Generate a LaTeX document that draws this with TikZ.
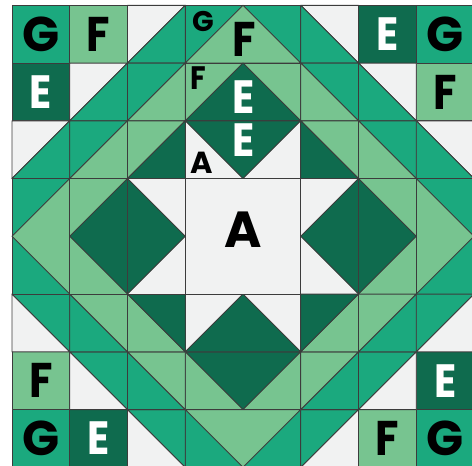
\documentclass[tikz,border=0pt]{standalone}
\usepackage{fontspec}
\newfontfamily\lab{Poppins}
\definecolor{qmed}{HTML}{1BA97E}
\definecolor{qlight}{HTML}{77C490}
\definecolor{qdark}{HTML}{0F6B4E}
\definecolor{qwhite}{HTML}{F1F2F2}
\definecolor{qline}{HTML}{3C3C3C}
\newcommand\qsq[3]{\filldraw[piece,fill=#3] (#1,#2) rectangle ++(1,1);}
\newcommand\qhst[4]{%
  \filldraw[piece,fill=#3] (#1,#2) -- (#1,#2+1) -- (#1+1,#2+1) -- cycle;
  \filldraw[piece,fill=#4] (#1,#2) -- (#1+1,#2) -- (#1+1,#2+1) -- cycle;}
\newcommand\nar[1]{\scalebox{0.88}[1]{#1}}
\begin{document}
\begin{tikzpicture}[x=1cm,y=1cm,
  piece/.style={draw=qline,line width=0.45pt,line join=round},
  big/.style={font=\lab\bfseries\fontsize{24}{24}\selectfont,inner sep=0pt},
  bige/.style={font=\lab\bfseries\fontsize{23}{23}\selectfont,inner sep=0pt},
  small/.style={font=\lab\bfseries\fontsize{15}{15}\selectfont,inner sep=0pt}]
\useasboundingbox (-0.208,0.023) rectangle (7.965,8.092);
\fill[white] (-0.208,0.023) rectangle (7.965,8.092);
\clip (-0.208,0.023) rectangle (7.965,8.092);
\foreach \a in {0,-90,-180,-270}{
\begin{scope}[rotate around={\a:(4,4)}]
  % corner block
  \qsq{0}{7}{qmed}
  \qsq{1}{7}{qlight}
  \qhst{2}{7}{qwhite}{qmed}
  \qsq{0}{6}{qdark}
  \qhst{1}{6}{qwhite}{qmed}
  \qhst{2}{6}{qmed}{qlight}
  \qhst{0}{5}{qwhite}{qmed}
  \qhst{1}{5}{qmed}{qlight}
  \qhst{2}{5}{qlight}{qdark}
  % flying geese strip
  \filldraw[piece,fill=qmed] (3,7) rectangle (5,8);
  \filldraw[piece,fill=qlight] (3,7) -- (4,8) -- (5,7) -- cycle;
  \filldraw[piece,fill=qlight] (3,6) rectangle (5,7);
  \filldraw[piece,fill=qdark] (3,6) -- (4,7) -- (5,6) -- cycle;
  \filldraw[piece,fill=qwhite] (3,5) rectangle (5,6);
  \filldraw[piece,fill=qdark] (3,6) -- (4,5) -- (5,6) -- cycle;
\end{scope}}
\filldraw[piece,fill=qwhite] (3,3) rectangle (5,5);
% labels
\node[big] (g1) at (0.5,7.5) {G};
\node[big] (f1) at (1.5,7.5) {\nar{F}};
\node[bige,white] (e1) at (0.5,6.5) {\nar{E}};
\node[bige,white] (e2) at (6.5,7.5) {\nar{E}};
\node[big] (g2) at (7.5,7.5) {G};
\node[big] (f2) at (7.5,6.5) {\nar{F}};
\node[big] (f3) at (0.5,1.5) {\nar{F}};
\node[big] (g3) at (0.5,0.5) {G};
\node[bige,white] (e3) at (1.5,0.5) {\nar{E}};
\node[bige,white] (e4) at (7.5,1.5) {\nar{E}};
\node[big] (f4) at (6.5,0.5) {\nar{F}};
\node[big] (g4) at (7.5,0.5) {G};
\node[small,font=\lab\bfseries\fontsize{14}{14}\selectfont] (gs) at (3.307,7.716) {G};
\node[big] (ft) at (4.017,7.416) {\nar{F}};
\node[small,font=\lab\bfseries\fontsize{16}{16}\selectfont] (fs) at (3.221,6.741) {\nar{F}};
\node[bige,white] (et1) at (4.009,6.403) {\nar{E}};
\node[bige,white] (et2) at (4.009,5.659) {\nar{E}};
\node[small] (as) at (3.29,5.278) {A};
\node[big,font=\lab\bfseries\fontsize{25}{25}\selectfont] (ac) at (4.0,4.109) {A};
\end{tikzpicture}
\end{document}
